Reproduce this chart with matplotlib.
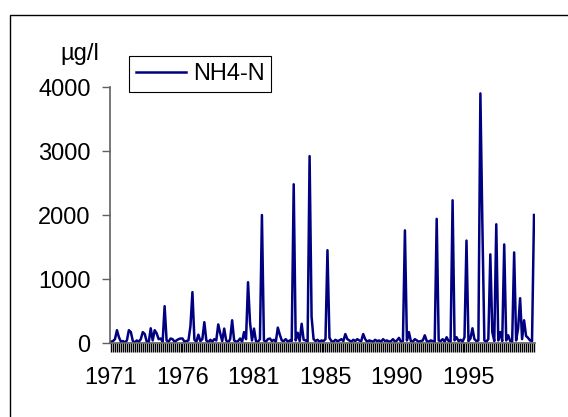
import matplotlib.pyplot as plt
from matplotlib.patches import Rectangle

plt.rcParams['font.family'] = ['Liberation Sans', 'DejaVu Sans']

# NH4-N concentration per sample (µg/l), in sampling order
nh4_n = [
    20, 30, 60, 200, 90, 20, 30, 10, 40, 200,
    170, 30, 10, 40, 20, 60, 170, 140, 20, 10,
    230, 40, 200, 150, 60, 70, 20, 575, 40, 20,
    70, 60, 20, 40, 60, 70, 70, 20, 30, 40,
    260, 795, 50, 20, 130, 30, 60, 325, 40, 10,
    50, 20, 60, 40, 290, 150, 30, 225, 40, 10,
    60, 355, 40, 20, 30, 70, 20, 170, 60, 950,
    325, 40, 225, 30, 20, 60, 2000, 40, 20, 60,
    70, 30, 50, 20, 240, 130, 40, 30, 60, 20,
    40, 30, 2480, 40, 160, 30, 300, 50, 40, 20,
    2920, 410, 60, 30, 50, 20, 40, 30, 60, 1450,
    80, 30, 20, 50, 30, 40, 60, 30, 140, 60,
    40, 20, 50, 30, 60, 40, 30, 140, 60, 20,
    40, 30, 20, 50, 30, 40, 20, 60, 30, 40,
    20, 30, 60, 20, 40, 80, 20, 30, 1760, 40,
    170, 30, 20, 60, 40, 20, 30, 40, 120, 30,
    20, 40, 30, 20, 1940, 40, 30, 60, 20, 90,
    30, 20, 2230, 40, 90, 30, 50, 20, 90, 1600,
    30, 70, 230, 60, 30, 40, 3900, 1850, 40, 20,
    60, 1385, 170, 30, 1855, 40, 170, 30, 1540, 40,
    120, 30, 20, 1415, 40, 230, 700, 60, 355, 110,
    80, 40, 30, 2000,
]
year_labels = ['1971', '1976', '1981', '1985', '1990', '1995']
label_every = 36
y_ticks = [0, 1000, 2000, 3000, 4000]

n = len(nh4_n)
idx = list(range(n))

fig = plt.figure(figsize=(5.68, 4.17), dpi=100)
ax = fig.add_axes([110 / 568, 1 - 343 / 417, 425 / 568, 256 / 417])

ax.plot(idx, nh4_n, color='#000080', linewidth=1.8, label='NH4-N')

ax.set_xlim(-0.5, n - 0.5)
ax.set_ylim(0, 4000)

# one tick per sample, a year label every few samples
ax.set_xticks(idx)
ax.set_xticklabels([year_labels[i // label_every] if i % label_every == 0 else ''
                    for i in idx])
ax.tick_params(axis='x', direction='out', length=6.5, width=1.0,
               color='black', labelsize=17, pad=11)
ax.set_yticks(y_ticks)
ax.tick_params(axis='y', direction='out', length=6, width=1,
               color='#606060', labelsize=17, pad=8)

for side in ('top', 'right'):
    ax.spines[side].set_visible(False)
ax.spines['left'].set_color('#606060')
ax.spines['bottom'].set_color('#606060')
ax.spines['left'].set_linewidth(1.2)
ax.spines['bottom'].set_linewidth(1.2)

fig.text(80 / 568, 1 - 54 / 417, 'µg/l', fontsize=17, ha='center', va='center')

leg = ax.legend(loc='upper left', bbox_to_anchor=(129 / 568, 1 - 56 / 417),
                bbox_transform=fig.transFigure, fontsize=17, fancybox=False,
                framealpha=1, edgecolor='black', borderpad=0.3,
                borderaxespad=0, handlelength=2.1, handletextpad=0.3)
leg.get_frame().set_linewidth(0.8)

# chart area border
fig.patches.append(Rectangle((10 / 568, -0.1), 1.0, 1 - 15 / 417 + 0.1,
                             transform=fig.transFigure, fill=False,
                             edgecolor='black', linewidth=1.0))

fig.savefig('out.png', dpi=100)
